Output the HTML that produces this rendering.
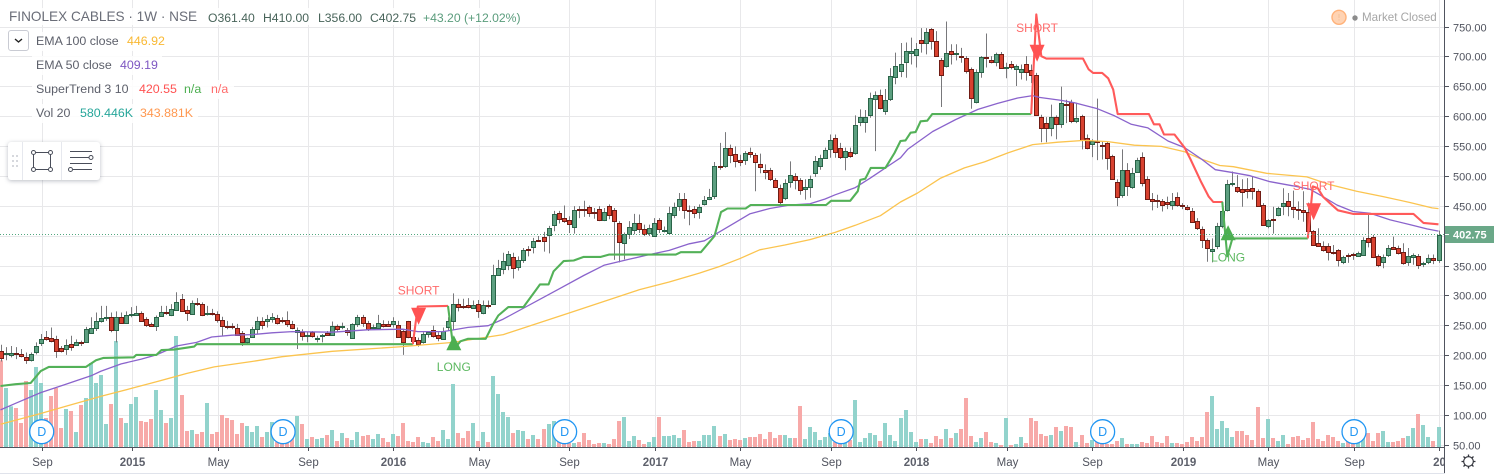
<!DOCTYPE html>
<html lang="en"><head><meta charset="utf-8"><title>FINOLEX CABLES chart</title>
<style>
html,body{margin:0;padding:0;background:#fff}
#stage{position:relative;width:1494px;height:474px;overflow:hidden;background:#fff;font-family:"Liberation Sans",sans-serif}
#chart{position:absolute;left:0;top:0}
.t{position:absolute;white-space:nowrap;font-size:12.4px;line-height:16px;color:#5d606b}
.bg{position:absolute;background:rgba(255,255,255,.85)}
</style></head>
<body>
<div id="stage">
<svg id="chart" width="1494" height="474" viewBox="0 0 1494 474">
  <defs><clipPath id="pane"><rect x="0" y="0" width="1445" height="447"></rect></clipPath>
  <clipPath id="timeclip"><rect x="0" y="448" width="1445" height="25"></rect></clipPath></defs>
  <g id="grid"></g>
  <g id="vols" clip-path="url(#pane)"></g>
  <g id="divs" clip-path="url(#pane)"></g>
  <g id="candles" clip-path="url(#pane)"></g>
  <g id="lines" clip-path="url(#pane)"></g>
  <g id="marks" clip-path="url(#pane)"></g>
  <g id="axes"></g>
</svg>

<div class="bg" style="left:6px;top:8px;width:505px;height:17px"></div>
<div class="bg" style="left:32px;top:32px;width:138px;height:19px"></div>
<div class="bg" style="left:32px;top:56px;width:130px;height:19px"></div>
<div class="bg" style="left:32px;top:80px;width:202px;height:19px"></div>
<div class="bg" style="left:32px;top:104px;width:166px;height:19px"></div>

<div class="t" style="left:9px;top:8px;font-size:13.6px;line-height:18px;color:#6a6d78">FINOLEX CABLES · 1W · NSE</div>
<div class="t" style="left:208px;top:10px;font-size:12.2px;color:#48645a">O361.40</div>
<div class="t" style="left:263px;top:10px;font-size:12.2px;color:#48645a">H410.00</div>
<div class="t" style="left:318px;top:10px;font-size:12.2px;color:#48645a">L356.00</div>
<div class="t" style="left:370px;top:10px;font-size:12.2px;color:#48645a">C402.75</div>
<div class="t" style="left:423px;top:10px;font-size:12.2px;color:#5a9c7c">+43.20 (+12.02%)</div>

<div style="position:absolute;left:8px;top:30px;width:19px;height:19px;border:1px solid #c9cbd3;border-radius:3px;background:#fff">
  <svg width="19" height="19"><path d="M6 8 L9.5 11 L13 8" fill="none" stroke="#222" stroke-width="1.4"></path></svg>
</div>

<div class="t" style="left:36px;top:33px">EMA 100 close</div>
<div class="t" style="left:127px;top:33px;color:#f9b934">446.92</div>
<div class="t" style="left:36px;top:57px">EMA 50 close</div>
<div class="t" style="left:120px;top:57px;color:#7e57c2">409.19</div>
<div class="t" style="left:36px;top:81px">SuperTrend 3 10</div>
<div class="t" style="left:139px;top:81px;color:#ff5252">420.55</div>
<div class="t" style="left:184px;top:81px;color:#4caf50">n/a</div>
<div class="t" style="left:211px;top:81px;color:#ff6b6b">n/a</div>
<div class="t" style="left:36px;top:105px">Vol 20</div>
<div class="t" style="left:80px;top:105px;color:#26a69a">580.446K</div>
<div class="t" style="left:140px;top:105px;color:#ff9850">343.881K</div>

<div style="position:absolute;left:8px;top:142px;width:92px;height:38px;background:#fff;border-radius:3px;box-shadow:0 1px 4px rgba(60,70,90,.35)">
  <svg width="92" height="38">
    <g fill="#c9cbd3"><circle cx="5" cy="14" r="1"></circle><circle cx="9" cy="14" r="1"></circle><circle cx="5" cy="19" r="1"></circle><circle cx="9" cy="19" r="1"></circle><circle cx="5" cy="24" r="1"></circle><circle cx="9" cy="24" r="1"></circle></g>
    <path d="M14.5 0V38M53.5 0V38" stroke="#e6e8ee"></path>
    <g fill="#fff" stroke="#4a4e5a" stroke-width="1">
      <rect x="25.5" y="10.5" width="17" height="17" fill="none"></rect>
      <circle cx="25.5" cy="10.5" r="2"></circle><circle cx="42.5" cy="10.5" r="2"></circle><circle cx="25.5" cy="27.5" r="2"></circle><circle cx="42.5" cy="27.5" r="2"></circle>
    </g>
    <g fill="#fff" stroke="#4a4e5a" stroke-width="1">
      <path d="M62 9.5H84M62 15.5H81M62 21.5H84M65 27.5H84" fill="none"></path>
      <circle cx="83" cy="15.5" r="2"></circle><circle cx="62.5" cy="27.5" r="2"></circle>
    </g>
  </svg>
</div>

<svg style="position:absolute;left:1330px;top:8px" width="20" height="20">
  <circle cx="9" cy="9.3" r="7" fill="#ffd3b3" stroke="#ffb27a" stroke-width="1.4"></circle>
  <path d="M9 6V10M9 11.2V12.5" stroke="#f3c09a" stroke-width="1"></path>
</svg>
<svg style="position:absolute;left:1351px;top:14px" width="8" height="8"><circle cx="4" cy="4" r="2.7" fill="#8c8c8c"></circle></svg>
<div class="t" style="left:1362px;top:10px;color:#a6a6a6;font-size:11.6px">Market Closed</div>
</div>

<script>
var opens=[209,203,202,205,203,199,193,207,222,232,
230,229,213,212,220,218,224,224,238,247,
259,264,266,243,265,256,268,269,273,262,
253,251,267,274,269,278,296,277,271,289,
288,271,272,270,261,251,251,247,239,223,
232,246,259,259,262,263,261,260,254,240,
240,234,241,230,234,238,236,251,249,243,
231,253,266,256,247,247,254,254,253,252,
242,258,232,227,223,237,244,235,229,249,
259,287,284,285,281,287,272,286,287,336,
346,352,366,349,361,380,382,395,400,403,
419,440,431,428,416,446,446,449,441,446,
428,451,445,423,390,404,411,423,413,406,
401,428,410,406,436,452,463,445,446,441,
454,463,468,518,518,549,539,529,529,542,
537,521,512,512,495,482,464,491,502,495,
480,483,506,518,531,546,565,548,533,542,
540,592,592,603,631,637,610,631,667,677,
692,708,704,729,724,748,728,696,686,710,
707,703,699,680,626,676,701,695,692,706,
683,689,681,675,689,679,671,600,590,582,
600,589,622,625,594,602,565,555,560,554,
556,535,492,470,511,483,508,533,497,463,
461,459,458,453,466,453,450,443,426,413,
395,376,384,418,444,489,483,480,480,481,
477,453,417,429,436,451,459,449,447,445,
441,409,389,385,384,375,377,358,370,371,
368,370,397,399,367,358,369,382,381,374,
357,366,367,355,358,364,361.4];
var highs=[219,215,217,215,212,206,206,223,237,242,
248,234,217,228,234,228,226,249,265,273,
284,284,273,275,273,275,282,284,275,265,
256,268,284,284,287,307,304,284,293,297,
290,284,279,275,266,259,255,254,242,231,
249,266,265,269,272,269,265,275,259,248,
245,241,242,234,237,242,258,253,256,247,
255,269,269,259,253,269,260,259,265,259,
245,259,237,231,240,242,251,240,248,265,
305,296,296,297,293,294,293,293,353,361,
373,376,373,367,381,384,398,401,408,418,
443,443,452,434,451,451,460,452,448,451,
448,454,448,426,407,426,438,437,420,420,
431,431,417,450,457,473,473,452,451,454,
468,480,525,557,575,554,551,537,543,549,
540,539,521,515,498,487,496,526,506,498,
496,502,535,537,549,571,571,557,549,549,
603,613,612,641,643,646,647,682,708,724,
725,733,724,749,749,749,744,699,760,722,
722,716,702,683,680,702,740,702,708,709,
691,694,688,688,702,688,674,604,600,621,
603,651,629,629,624,604,571,563,631,560,
560,537,496,546,523,515,532,541,501,473,
470,463,467,473,474,456,453,448,431,417,
397,397,423,459,495,509,503,496,498,500,
479,456,429,450,450,481,473,477,459,476,
457,411,414,392,389,386,379,368,372,373,
375,399,437,403,370,370,386,400,385,389,
381,372,371,358,370,370,410];
var lows=[191,193,198,195,198,187,191,203,217,226,
223,197,206,202,209,217,217,223,237,242,
256,259,240,223,254,254,265,268,258,249,
249,242,266,269,267,277,275,259,269,284,
267,268,268,256,233,245,245,234,217,220,
231,237,245,248,256,253,255,249,245,212,
226,223,231,223,223,234,234,241,245,234,
229,249,249,242,245,245,248,249,248,231,
202,230,220,216,221,231,231,225,228,242,
244,275,279,280,279,264,270,280,286,335,
337,344,330,343,356,367,372,392,375,372,
409,422,423,406,405,431,433,433,430,426,
426,429,361,357,362,396,404,406,401,401,
400,406,407,405,431,443,430,419,431,430,
452,461,463,512,515,523,516,518,520,532,
476,506,496,493,482,452,461,482,479,470,
462,465,500,512,530,532,532,530,511,532,
537,585,574,599,543,613,604,627,655,667,
666,688,683,708,705,713,701,617,683,688,
695,691,673,614,623,666,683,690,685,681,
665,680,652,663,661,657,602,558,558,568,
563,582,590,590,590,546,546,533,528,529,
512,496,451,465,468,480,507,484,462,444,
448,442,446,445,450,446,444,423,411,381,
358,357,379,414,442,484,473,450,464,462,
450,419,414,405,434,436,434,431,428,425,
409,385,384,375,360,370,350,354,356,361,
367,368,382,364,349,347,366,378,370,353,
351,353,346,349,354,354,356];
var closes=[197,205,205,204,201,193,203,217,229,229,
226,208,208,218,215,224,223,246,247,259,
263,265,244,266,256,269,270,273,259,252,
251,266,274,273,279,291,276,273,289,288,
269,273,270,261,251,249,248,236,223,230,
245,259,252,262,265,256,259,253,247,243,
234,236,234,231,235,236,250,245,251,240,
254,265,256,246,248,256,251,251,259,232,
223,232,226,221,237,240,234,231,242,259,
288,282,282,282,285,276,286,284,336,348,
360,371,347,361,378,377,393,394,392,415,
438,430,426,421,445,444,444,440,440,428,
441,436,426,391,404,416,423,413,405,415,
423,412,411,440,450,463,445,444,440,450,
462,467,519,516,549,537,526,525,540,539,
525,516,508,497,483,458,490,503,495,478,
483,497,527,532,545,562,541,534,544,535,
587,600,600,632,637,616,628,668,685,689,
710,710,714,724,743,728,702,671,708,706,
708,700,678,632,676,701,699,692,706,683,
684,684,685,681,675,671,604,582,582,600,
589,624,620,594,599,561,549,560,558,551,
532,497,467,511,484,507,528,490,463,460,
460,453,454,459,453,451,447,425,415,394,
381,379,418,443,488,490,476,475,477,477,
452,420,428,428,448,457,451,446,444,441,
409,386,385,378,375,374,361,366,367,369,
372,394,391,366,353,366,381,380,372,356,
367,369,353,356,364,361,402.75];
var volumes=[2600,1770,1220,1170,720,1980,1710,2400,1920,870,
1530,1770,570,1140,1080,450,1260,1470,2520,1920,
2160,690,1290,3180,870,720,1290,1500,780,750,
840,1710,1110,720,870,3330,1560,480,510,390,
450,1320,390,450,960,870,810,390,720,630,
450,630,300,450,750,150,150,150,300,930,
690,240,300,240,270,360,510,180,420,270,
210,450,330,360,240,390,270,150,390,330,
720,180,150,300,150,120,300,180,510,240,
1890,420,270,480,720,180,450,150,2130,1590,
1050,900,420,510,480,240,360,240,540,690,
780,200,100,120,120,150,420,210,90,120,
120,90,240,780,900,180,330,210,90,150,
300,900,330,330,360,270,510,150,180,180,
360,360,630,330,390,210,240,210,270,300,
300,390,240,450,270,360,360,270,270,1230,
240,600,450,210,300,420,150,150,150,210,
1410,150,270,420,360,180,720,360,180,870,
1110,450,150,240,240,120,330,240,540,270,
420,540,1470,330,150,270,450,150,120,60,
870,60,90,300,120,870,780,390,330,360,
600,480,630,600,150,360,120,210,150,90,
90,90,180,270,90,90,90,150,120,330,
150,120,330,120,120,90,150,300,180,300,
1050,1530,540,780,570,300,480,480,360,210,
1200,270,840,270,180,360,90,300,330,210,
270,750,240,180,360,300,180,120,180,90,
210,360,420,180,420,480,150,150,180,270,
330,570,990,660,300,180,600];

var ema50Bars=[0,3,8,13,18,20,24,28,31,35,39,42,46,50,54,58,66,73,80,83,88,93,97,100,111,116,120,125,129,133,137,140,142,146,149,153,157,161,164,166,170,173,176,179,180.4,185.4,190,194.4,198.3,202.3,205.3,206.6,211,213.6,218.2,221.6,224.9,228.2,232.2,235.5,238.8,241.6,245.2,248.5,252.5,257,260.5,263,265.8,269,272.4,276.4,280.4,283.7,286];
var ema50Values=[110,121,139,153,167,175,187,195,202,217,223,232,235,236,239,241,240,244,245,241,241,248,251,262,312,335,352,362,370,377,388,393,403,423,438,447,453,455,463,470,482,498,515,532,546,576,596,613,623,632,636,633,628,624,614,602,588,582,560,549,530,512,507,502,492,485,479,467,453,442,439,428,420,413,409.19];
var ema100Bars=[0,8,13,20,26.5,31,37,42.5,50,56,66,80,90,100,113,127,133,139,143,147,151,156,161,166,170,175,179,182.4,187,191.7,195.7,200.3,205.3,210.3,215.6,220.2,225.5,230.9,235.5,238.7,242.5,245.2,251.8,259.8,264.4,269.7,275,280.4,284.7,286];
var ema100Values=[86,104,116,133,147,157,171,182,191,199,208,216,223,236,272,311,324,339,350,363,378,386,395,407,419,435,458,473,498,515,525,540,554,558,561,559,553,551,542,530,519,517,506,500,487,476,467,457,448,446.92];
var stBars=[0,3,6,8,9.6,17,19,20.5,26.5,27,31,32,34.5,38.5,39,82,83,89,90,91,91.5,93,96.5,98,99,101,104,106.6,107.3,109,110,112,114,116,119.4,121,134.3,135.3,139.3,142,143.3,144.6,148.2,149.2,164.2,165.2,169,170.5,171,172,173.1,176,177.8,179,180,181,182,183,184.3,185.3,205,206,207,208,215.3,216.4,217.3,219.1,220.3,221.3,222.2,228.4,229.4,230.5,231.4,233.5,235.5,236.7,238.7,240.3,241.2,243,244,245,260,261,262,263,264.4,266,269,281,283,286];
var stValues=[150,153,155,175,182,182,193,197,198,202,202,210,211,216,220,220,283,284,218,220,225,229,229,254,268,282,282,312,320,320,342,359,360,366,366,370,370,374,374,401,441,447,447,453,453,460,460,476,495,497,515,515,540,560,561,574,575,593,594,605,605,772,702,698,698,680,674,674,665,646,605,605,588,588,571,571,549,529,493,467,458,458,367,397,397,484,481,467,456,444,438,438,423,420.55];
var stFlipBars=[83,90,206,244,261];

var priceTicks=[750,700,650,600,550,500,450,400,350,300,250,200,150,100,50];
var timeLabels=["Sep","2015","May","Sep","2016","May","Sep","2017","May","Sep","2018","May","Sep","2019","May","Sep","20"];
var timeBars=[8,26,43,61,78,95,113,130,147,165,182,200,217,235,252,269,286];
var dividendBars=[8,56,112,167,219,269];
var signalLabels=["SHORT","LONG","SHORT","LONG","SHORT"];
var signalBars=[83,90,206,244,261];
var signalPrices=[281,235,721,419,456];
var lastPrice=402.75;
var lastPriceLabel="402.75";

var NS="http://www.w3.org/2000/svg";
function x(i){return 0.5+5.028*i;}
function y(p){return 266.5+(350-p)*0.5975;}
function vh(v){return v/30;}
function mk(tag,parent){var e=document.createElementNS(NS,tag);parent.appendChild(e);return e;}
function set(e,k,v){e.setAttribute(k,v);}
var grid=document.getElementById('grid'),vols=document.getElementById('vols'),divs=document.getElementById('divs'),candles=document.getElementById('candles'),linesG=document.getElementById('lines'),marks=document.getElementById('marks'),axes=document.getElementById('axes');

priceTicks.forEach(function(p){
  var yy=Math.round(y(p))-0.5;
  var g=mk('line',grid);
  
  
  set(g,'x1',0);set(g,'x2',1445);set(g,'y1',yy);set(g,'y2',yy);set(g,'stroke','#e8e8ea');
  var tk=mk('line',axes);
  
  
  set(tk,'x1',1445);set(tk,'x2',1449);set(tk,'y1',yy);set(tk,'y2',yy);set(tk,'stroke','#50535e');
  var t=mk('text',axes);
  
  
  set(t,'x',1453);set(t,'y',yy+4);set(t,'font-size','11');set(t,'fill','#50535e');set(t,'font-family','"Liberation Sans",sans-serif');
  t.textContent=p.toFixed(2);
});
timeBars.forEach(function(b,k){
  var xx=Math.round(x(b)+0.8)+0.5;
  var g=mk('line',grid);
  
  
  set(g,'x1',xx);set(g,'x2',xx);set(g,'y1',0);set(g,'y2',447);set(g,'stroke','#e8e8ea');
  var tk=mk('line',axes);
  
  
  set(tk,'x1',xx);set(tk,'x2',xx);set(tk,'y1',447);set(tk,'y2',451);set(tk,'stroke','#50535e');
  var t=mk('text',axes);
  
  
  var isYear=/^20/.test(timeLabels[k]);
  set(t,'x',xx);set(t,'y',466);set(t,'text-anchor','middle');set(t,'font-size','11.5');set(t,'clip-path','url(#timeclip)');
  set(t,'fill',isYear?'#5d606b':'#50535e');set(t,'font-weight',isYear?'bold':'normal');set(t,'font-family','"Liberation Sans",sans-serif');
  t.textContent=timeLabels[k];
});

volumes.forEach(function(v,i){
  var up=closes[i]>=opens[i];
  var r=mk('rect',vols);
  
  
  var h=vh(v);
  set(r,'x',Math.round(x(i))-2);set(r,'y',447-h);set(r,'width',4);set(r,'height',h);
  set(r,'fill',up?'#92d3cc':'#f7a9a8');
});

dividendBars.forEach(function(b){
  var g=mk('g',divs);
  
  
  var cx=x(b)+1;
  var c=mk('circle',g);
  set(c,'cx',cx);set(c,'cy',431.7);set(c,'r',12);set(c,'fill','#fff');set(c,'stroke','#2196f3');set(c,'stroke-width','1.3');
  var t=mk('text',g);
  set(t,'x',cx);set(t,'y',436.2);set(t,'text-anchor','middle');set(t,'font-size','12.5');set(t,'fill','#2196f3');set(t,'font-family','"Liberation Sans",sans-serif');
  t.textContent='D';
});

opens.forEach(function(o,i){
  var c=closes[i],up=c>=o;
  var cx=Math.round(x(i));
  var g=mk('g',candles);
  
  
  var w=mk('line',g);
  set(w,'x1',cx+0.5);set(w,'x2',cx+0.5);set(w,'y1',y(highs[i]));set(w,'y2',y(lows[i]));set(w,'stroke','#78787b');
  var top=Math.round(y(Math.max(o,c))),bot=Math.round(y(Math.min(o,c)));
  if(bot-top<1)bot=top+1;
  var b=mk('rect',g);
  set(b,'x',cx-1.5);set(b,'y',top+0.5);set(b,'width',4);set(b,'height',bot-top);
  set(b,'fill',up?'#5c9f80':'#d8412f');set(b,'stroke',up?'#2a6448':'#701c14');set(b,'stroke-width','1');
});

function poly(bars,vals,color,w,name){
  var p=mk('path',linesG);
  
  
  var d='';
  bars.forEach(function(b,k){d+=(k?'L':'M')+x(b).toFixed(1)+' '+y(vals[k]).toFixed(1);});
  set(p,'d',d);set(p,'fill','none');set(p,'stroke',color);set(p,'stroke-width',w);set(p,'stroke-linejoin','round');
  return p;
}
var ema100Line=poly(ema100Bars,ema100Values,'#fbc44f','1.3','ema-100-line');
var ema50Line=poly(ema50Bars,ema50Values,'#8a63cc','1.3','ema-50-line');

function trendAt(b){var n=0;stFlipBars.forEach(function(f){if(b>=f)n++;});return n%2===0;}
var runStart=0;
for(var k=1;k<=stBars.length;k++){
  if(k===stBars.length||trendAt(stBars[k])!==trendAt(stBars[k-1])){
    var from=runStart===0?0:runStart-1;
    var up=trendAt(stBars[k-1]);
    var sp=poly(stBars.slice(from,k),stValues.slice(from,k),up?'#53b158':'#ff5a5a','2.1',up?'supertrend-up-line':'supertrend-down-line');
    runStart=k;
  }
}

signalBars.forEach(function(b,k){
  var short=signalLabels[k]==='SHORT',cx=x(b)+0.8,yy=y(signalPrices[k]);
  var color=short?'#ff5252':'#4caf50';
  var g=mk('g',marks);
  
  
  var tr=mk('polygon',g);
  var pts=short?[[cx-7.5,yy],[cx+7.5,yy],[cx,yy+17]]:[[cx,yy],[cx-7.5,yy+15],[cx+7.5,yy+15]];
  set(tr,'points',pts.map(function(q){return q[0].toFixed(1)+','+q[1].toFixed(1);}).join(' '));
  set(tr,'fill',color);
  var t=mk('text',g);
  set(t,'x',cx);set(t,'y',short?yy-13:yy+36);set(t,'text-anchor','middle');set(t,'font-size','12');set(t,'fill',short?'#ff6b6b':'#5cb860');set(t,'font-family','"Liberation Sans",sans-serif');
  t.textContent=signalLabels[k];
});

var pl=mk('line',marks);


set(pl,'x1',0);set(pl,'x2',1445);set(pl,'y1',Math.round(y(lastPrice))-0.5);set(pl,'y2',Math.round(y(lastPrice))-0.5);
set(pl,'stroke','#53a880');set(pl,'stroke-dasharray','1 2');

var ax1=mk('line',axes);


set(ax1,'x1',0);set(ax1,'x2',1445);set(ax1,'y1',447.5);set(ax1,'y2',447.5);set(ax1,'stroke','#50535e');
var ax2=mk('line',axes);


set(ax2,'x1',1444.5);set(ax2,'x2',1444.5);set(ax2,'y1',0);set(ax2,'y2',473);set(ax2,'stroke','#50535e');
var ax3=mk('line',axes);


set(ax3,'x1',0);set(ax3,'x2',1445);set(ax3,'y1',473.5);set(ax3,'y2',473.5);set(ax3,'stroke','#e0e3eb');

var lb=mk('rect',axes);


var ly=Math.round(y(lastPrice));
set(lb,'x',1445);set(lb,'y',ly-9);set(lb,'width',49);set(lb,'height',17);set(lb,'fill','#6aa888');
var lt=mk('line',axes);


set(lt,'x1',1445);set(lt,'x2',1449);set(lt,'y1',ly-0.5);set(lt,'y2',ly-0.5);set(lt,'stroke','#fff');
var lx=mk('text',axes);


set(lx,'x',1453);set(lx,'y',ly+3.5);set(lx,'font-size','11');set(lx,'font-weight','bold');set(lx,'fill','#fff');set(lx,'font-family','"Liberation Sans",sans-serif');
lx.textContent=lastPriceLabel;

var gear=mk('g',axes);


var gc=mk('circle',gear);
set(gc,'cx',1468.5);set(gc,'cy',461.5);set(gc,'r',4.8);set(gc,'fill','none');set(gc,'stroke','#33353d');set(gc,'stroke-width','1.1');
var gp=mk('path',gear);
set(gp,'d','M1468.5 454.5V456.7M1468.5 466.3V468.5M1461.5 461.5H1463.7M1473.3 461.5H1475.5M1463.5 456.5L1465.1 458.1M1471.9 464.9L1473.5 466.5M1463.5 466.5L1465.1 464.9M1471.9 458.1L1473.5 456.5');
set(gp,'stroke','#33353d');set(gp,'stroke-width','1.3');
</script>
</body></html>
